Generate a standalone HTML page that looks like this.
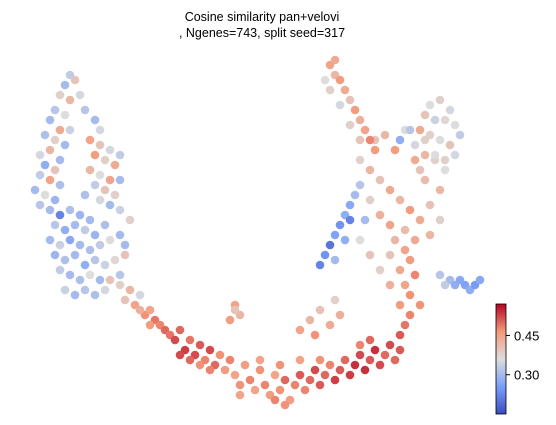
<!DOCTYPE html>
<html><head><meta charset="utf-8"><style>
body{margin:0;background:#fff;}
svg{display:block;font-family:"Liberation Sans","DejaVu Sans",sans-serif;}
</style></head><body>
<svg id="chart" width="556" height="425" viewBox="0 0 556 425">
<defs><linearGradient id="cw" x1="0" y1="1" x2="0" y2="0">
<stop offset="0" stop-color="#3b4cc0"/><stop offset="0.25" stop-color="#7b9ff9"/><stop offset="0.5" stop-color="#dddddd"/><stop offset="0.75" stop-color="#f49a7b"/><stop offset="1" stop-color="#b40426"/></linearGradient></defs>
<text x="262" y="21" font-size="12.5" text-anchor="middle">Cosine similarity pan+velovi</text>
<text x="262" y="37" font-size="12.5" text-anchor="middle">, Ngenes=743, split seed=317</text>
<g id="pts"></g>
<g>
<rect x="496" y="304" width="10" height="110" fill="url(#cw)" stroke="#000" stroke-width="0.8"/>
<g id="cbticks"></g>
</g>
</svg>
<script>
const umap1=[14,15,13,12,14,11,13,10,12,14,9,11,13,10,8,12,9,11,8,10,12,7,9,11,8,16,17,19,20,
18,20,22,24,19,21,23,18,20,22,24,19,21,23,17,20,22,24,
10,12,14,16,18,11,13,15,17,19,21,10,12,14,16,18,20,22,24,11,13,15,17,19,21,23,25,12,14,16,18,20,22,24,13,15,17,19,21,26,25,
24,26,25,27,28,29,30,31,32,33,30,34,28,
35,36,37,38,39,40,41,42,43,44,45,46,36,38,40,42,
47,48,49,50,51,52,53,54,55,56,57,58,59,60,61,62,63,64,65,66,67,68,69,70,52,56,60,64,55,57,48,
71,72,73,74,75,76,77,78,79,80,74,72,
60,62,64,66,68,63,67,47,48,46,47,
80,81,82,80,82,81,83,80,82,81,79,83,81,78,84,78,
64,65,66,67,68,69,70,71,69,67,72,70,
72,74,76,78,80,82,84,86,88,74,76,78,72,74,76,85,87,83,79,77,75,81,85,89,73,86,88,
66,67,68,66,69,70,68,71,72,70,73,74,72,75,67,65,
86,88,90,85,87,89,91,84,86,88,90,92,83,85,87,89,91,84,82,80,
88,90,91,92,93,94,95,96,89];
const umap2=[69,68,67,65,64,62,61,60,58,58,57,56,55,54,53,52,51,50,49,48,47,46,45,44,43,65,62,60,58,
56,55,54,53,53,52,51,50,49,48,48,47,46,45,45,44,43,42,
42,41,42,41,40,39,38,39,38,37,39,36,35,36,35,34,35,36,37,33,32,33,31,32,31,32,33,30,29,28,29,28,28,29,26,25,26,25,26,40,35,
27,26,24,23,25,21,22,20,19,18,19,17,22,
16,18,14,16,13,15,12,14,11,13,10,12,13,12,11,10,
9,7,11,8,6,10,7,5,9,6,8,4,7,9,6,8,10,7,9,11,8,10,12,9,12,11,12,12,4,3,5,
11,13,10,12,14,11,13,15,12,14,16,15,
18,20,22,19,21,17,24,23,21,20,22,
17,19,21,23,25,27,29,30,32,34,36,36,38,27,23,33,
31,33,35,37,39,41,43,45,36,32,47,40,
52,50,48,46,44,42,40,43,46,44,41,39,36,33,30,48,52,52,54,57,56,58,56,50,40,37,40,
71,69,68,66,66,64,63,62,60,59,58,56,56,54,72,68,
63,64,62,61,60,60,59,58,57,56,55,57,55,53,53,52,53,50,58,56,
29,28,27,28,27,26,27,28,27];
const similarity=[.33,.40,.30,.38,.42,.32,.36,.30,.44,.34,.31,.38,.30,.42,.35,.30,.28,.40,.33,.45,.31,.30,.36,.29,.32,.35,.32,.30,.35,
.45,.40,.35,.33,.46,.38,.44,.42,.36,.45,.30,.33,.40,.38,.31,.35,.30,.34,
.30,.22,.31,.29,.30,.32,.28,.30,.33,.29,.31,.30,.34,.27,.30,.31,.33,.36,.30,.29,.31,.30,.28,.32,.34,.37,.40,.33,.30,.31,.36,.30,.40,.32,.34,.30,.32,.31,.35,.38,.30,
.38,.42,.40,.45,.35,.47,.45,.49,.48,.50,.46,.49,.43,
.52,.50,.53,.49,.52,.51,.48,.52,.50,.47,.46,.48,.52,.50,.47,.48,
.45,.47,.46,.48,.45,.47,.48,.46,.45,.47,.50,.46,.48,.51,.48,.50,.52,.51,.50,.48,.53,.51,.50,.53,.45,.47,.45,.47,.48,.47,.45,
.54,.52,.54,.51,.54,.52,.50,.52,.50,.51,.50,.48,
.45,.42,.40,.44,.43,.47,.38,.45,.42,.46,.40,
.51,.49,.48,.46,.47,.45,.48,.44,.46,.45,.42,.44,.41,.43,.47,.40,
.22,.24,.20,.26,.24,.28,.27,.30,.28,.30,.32,.22,
.38,.42,.40,.44,.42,.46,.44,.40,.42,.38,.43,.45,.36,.40,.38,.41,.38,.44,.46,.42,.40,.36,.38,.36,.30,.42,.38,
.45,.42,.46,.38,.44,.40,.35,.46,.43,.38,.45,.48,.40,.46,.44,.36,
.36,.38,.35,.40,.34,.37,.36,.44,.38,.36,.40,.33,.35,.42,.36,.38,.35,.40,.32,.28,
.32,.30,.28,.27,.26,.28,.25,.27,.33];
const cbTickValues=[0.30,0.45];
const cbTickLabels=["0.30","0.45"];
const vmin=0.15, vmax=0.57;
const xScale=d=>d*5, yScale=d=>420-d*5;
const cbScale=v=>414-(v-vmin)/(vmax-vmin)*110;
const stops=[[59,76,192],[123,159,249],[221,221,221],[244,154,123],[180,4,38]];
function cmap(v){let t=Math.max(0,Math.min(1,(v-vmin)/(vmax-vmin)))*4;let i=Math.min(3,Math.floor(t)),f=t-i;
const a=stops[i],b=stops[i+1];return `rgb(${a.map((c,k)=>Math.round(c+(b[k]-c)*f)).join(',')})`;}
const NS="http://www.w3.org/2000/svg";
const g=document.getElementById('pts');
for(let i=0;i<similarity.length;i++){
const c=document.createElementNS(NS,'circle');
c.setAttribute('cx',xScale(umap1[i]));c.setAttribute('cy',yScale(umap2[i]));
c.setAttribute('r',4.3);c.setAttribute('fill',cmap(similarity[i]));


g.appendChild(c);}
const tg=document.getElementById('cbticks');
cbTickValues.forEach((v,i)=>{const y=cbScale(v);
const l=document.createElementNS(NS,'line');l.setAttribute('x1',506);l.setAttribute('x2',510);l.setAttribute('y1',y);l.setAttribute('y2',y);l.setAttribute('stroke','#000');


tg.appendChild(l);
const t=document.createElementNS(NS,'text');t.setAttribute('x',514);t.setAttribute('y',y+5);t.setAttribute('font-size','13');t.textContent=cbTickLabels[i];


tg.appendChild(t);});
</script>
</body></html>
